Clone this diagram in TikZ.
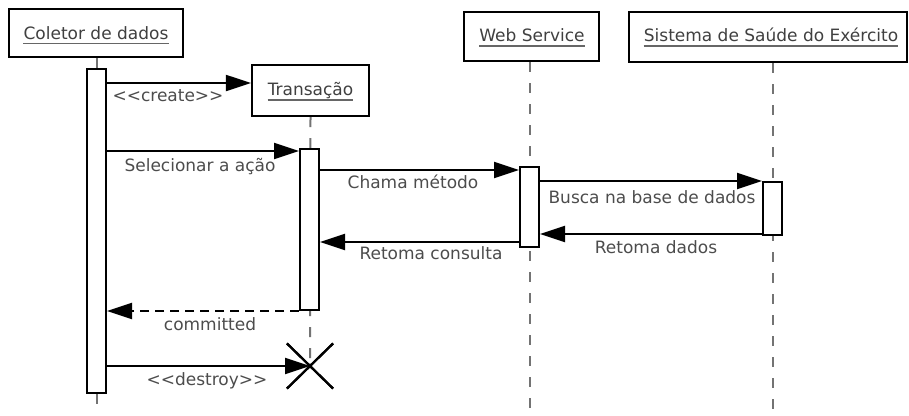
\documentclass[tikz,border=0pt]{standalone}
\usepackage{fontspec}
\setmainfont{DejaVu Sans}
\usetikzlibrary{arrows.meta,shapes.misc}
\newcommand{\guil}[1]{<\kern0pt<#1>\kern0pt>}
\begin{document}
\begin{tikzpicture}[x=1pt,y=-1pt,
  hbox/.style={draw=black, line width=2.2pt, fill=white, inner sep=0pt},
  htext/.style={inner sep=0pt, anchor=base, text=black!75, font=\fontsize{17}{20}\selectfont},
  lbl/.style={inner sep=0pt, anchor=base, text=black!70, font=\fontsize{17}{20}\selectfont},
  act/.style={draw=black, line width=2pt, fill=white, minimum width=19pt, inner sep=0pt},
  life/.style={draw=black!55, line width=2pt, dash pattern=on 10pt off 11pt},
  msg/.style={draw=black, line width=2pt, -{Triangle[length=25pt,width=16pt]}},
  reply/.style={msg, dash pattern=on 9pt off 6pt},
  uline/.style={draw=black!60, line width=1.5pt},
  kill/.style={cross out, draw=black, line width=2.2pt, minimum width=44pt, minimum height=43pt, inner sep=0pt}
]
\path[use as bounding box] (0,0) rectangle (909,415);

% object headers
\node[hbox, minimum width=174pt, minimum height=48pt] (colB) at (96,33) {};
\node[hbox, minimum width=117pt, minimum height=51pt] (trB) at (310.5,90.5) {};
\node[hbox, minimum width=135pt, minimum height=49pt] (wsB) at (531.5,36.5) {};
\node[hbox, minimum width=278pt, minimum height=50pt] (ssB) at (768,37) {};

\node[htext] (colT) at (96,39) {Coletor de dados};
\node[htext] (trT) at (310.5,95.7) {Transação};
\node[htext] (wsT) at (532,41.7) {Web Service};
\node[htext] (ssT) at (771,41.7) {Sistema de Saúde do Exército};

\foreach \t in {colT,trT,wsT,ssT}
  \draw[uline] ([yshift=-4.4pt]\t.base west) -- ([yshift=-4.4pt]\t.base east);

% lifelines
\coordinate (colEnd) at (97,415);
\coordinate (wsEnd) at (529.5,415);
\coordinate (ssEnd) at (772.5,415);
\node[kill] (xmark) at (310,366) {};
\draw[life] (colB.south -| colEnd) -- (colEnd);
\draw[life] (trB.south) -- (xmark.center);
\draw[life] (wsB.south -| wsEnd) -- (wsEnd);
\draw[life] (ssB.south -| ssEnd) -- (ssEnd);

% activation bars
\node[act, minimum height=324pt] (actC) at (96.5,231) {};
\node[act, minimum height=161pt] (actT) at (309.5,229.5) {};
\node[act, minimum height=80pt] (actW) at (529.5,207) {};
\node[act, minimum height=53pt] (actS) at (772.5,208.5) {};

% message rows
\coordinate (yCreate) at (0,83);
\coordinate (ySel) at (0,151);
\coordinate (yCall) at (0,170);
\coordinate (yFind) at (0,181);
\coordinate (yData) at (0,234);
\coordinate (yBack) at (0,242);
\coordinate (yDone) at (0,311);

\draw[msg] (actC.east |- yCreate) -- (trB.west |- yCreate);
\draw[msg] (actC.east |- ySel) -- (actT.west |- ySel);
\draw[msg] (actT.east |- yCall) -- (actW.west |- yCall);
\draw[msg] (actW.east |- yFind) -- (actS.west |- yFind);
\draw[msg] (actS.west |- yData) -- (actW.east |- yData);
\draw[msg] (actW.west |- yBack) -- (actT.east |- yBack);
\draw[reply] (actT.west |- yDone) -- (actC.east |- yDone);
\draw[msg] (actC.east |- xmark) -- (xmark.center);
\node[kill] at (xmark) {};

% message labels
\node[lbl] (lCreate) at (168,101) {\guil{create}};
\node[lbl] (lSel) at (200,171.5) {Selecionar a ação};
\node[lbl] (lCall) at (413,188.3) {Chama método};
\node[lbl] (lFind) at (652,203.3) {Busca na base de dados};
\node[lbl] (lData) at (656,253.3) {Retoma dados};
\node[lbl] (lBack) at (431,259.3) {Retoma consulta};
\node[lbl] (lDone) at (210,330) {committed};
\node[lbl] (lKill) at (207,385) {\guil{destroy}};
\end{tikzpicture}
\end{document}
